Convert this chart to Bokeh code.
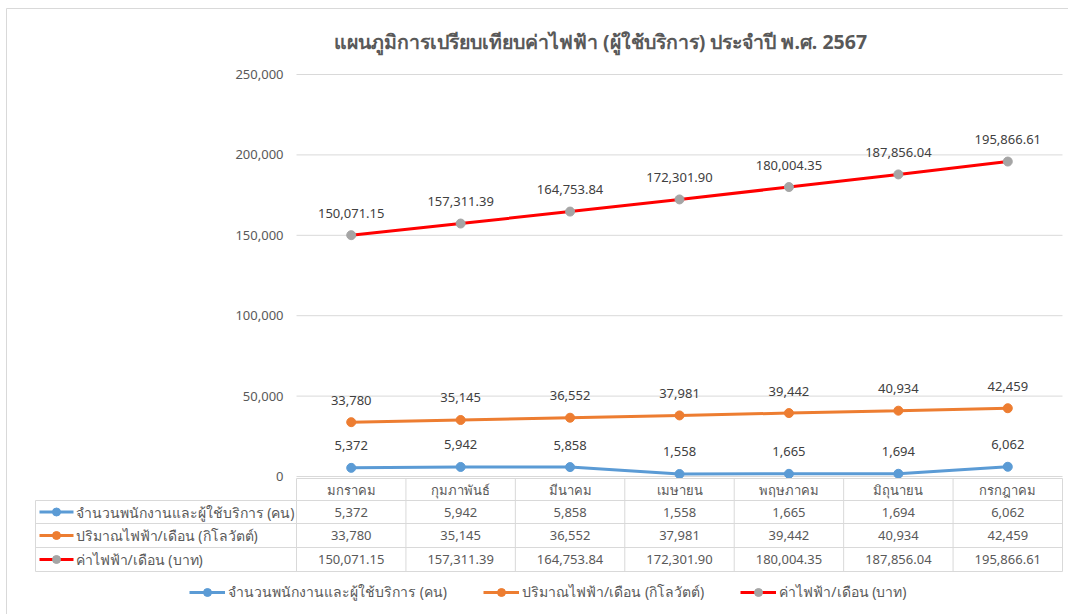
from bokeh.plotting import figure
from bokeh.models import Range1d, ColumnDataSource, Legend, LegendItem
from bokeh.core.properties import value
from bokeh.embed import file_html
from bokeh.resources import INLINE

# ---------------- data ----------------
title_text = "แผนภูมิการเปรียบเทียบค่าไฟฟ้า (ผู้ใช้บริการ) ประจำปี พ.ศ. 2567"
months = ["มกราคม", "กุมภาพันธ์", "มีนาคม", "เมษายน", "พฤษภาคม", "มิถุนายน", "กรกฎาคม"]
staff = [5372, 5942, 5858, 1558, 1665, 1694, 6062]
kwh = [33780, 35145, 36552, 37981, 39442, 40934, 42459]
baht = [150071.15, 157311.39, 164753.84, 172301.90, 180004.35, 187856.04, 195866.61]
series_names = ["จำนวนพนักงานและผู้ใช้บริการ (คน)",
                "ปริมาณไฟฟ้า/เดือน (กิโลวัตต์)",
                "ค่าไฟฟ้า/เดือน (บาท)"]
y_ticks = [0, 50000, 100000, 150000, 200000, 250000]

# ---------------- style ----------------
FONT = "Noto Sans"
TXT = "#595959"
LBL = "#404040"
GRID = "#d9d9d9"
BORDER = "#d9d9d9"
line_colors = ["#5B9BD5", "#ED7D31", "#FF0000"]
marker_colors = ["#5B9BD5", "#ED7D31", "#A5A5A5"]
series_values = [staff, kwh, baht]
fmt = [lambda v: f"{v:,}", lambda v: f"{v:,}", lambda v: f"{v:,.2f}"]

W, H = 1068, 614
PLOT_L, PLOT_R = 296, 1062          # plot area (px)
Y_ZERO, Y_TOP = 476, 74             # px of 0 and of 250,000
TBL_L = 35
n = len(months)
cell_px = (PLOT_R - PLOT_L) / n
xs = list(range(n))
ppu = (Y_ZERO - Y_TOP) / float(y_ticks[-1])

x_start = -0.5 - PLOT_L / cell_px
x_end = -0.5 + (W - PLOT_L) / cell_px
y_start = -(H - Y_ZERO) / ppu
y_end = Y_ZERO / ppu

p = figure(width=W, height=H, x_range=Range1d(x_start, x_end), y_range=Range1d(y_start, y_end),
           output_backend="svg", toolbar_location=None, x_axis_location=None,
           y_axis_location=None, min_border=0)
p.extra_x_ranges = {"px": Range1d(0, W)}
p.extra_y_ranges = {"px": Range1d(H, 0)}
p.outline_line_color = None
p.grid.visible = False
p.background_fill_color = "white"
p.border_fill_color = "white"

# chart-area border (left & top)
p.segment(x0=[6, 6], y0=[8, 8], x1=[6, W], y1=[H, 8], line_color=BORDER, line_width=1,
          x_range_name="px", y_range_name="px")

# title
p.text(x=[600], y=[41], text=[title_text], text_align="center", text_baseline="middle",
       text_font=value(FONT), text_font_size="19.5px", text_font_style="bold", text_color=TXT,
       x_range_name="px", y_range_name="px")

# gridlines and y tick labels
p.segment(x0=[-0.5] * len(y_ticks), y0=y_ticks, x1=[n - 0.5] * len(y_ticks), y1=y_ticks,
          line_color=GRID, line_width=1)
p.text(x=[-0.5] * len(y_ticks), y=y_ticks, text=[f"{t:,}" for t in y_ticks], x_offset=-13,
       text_align="right", text_baseline="middle", text_font=value(FONT),
       text_font_size="13px", text_color=TXT)

# series
for vals, lc, mc, f in zip(series_values, line_colors, marker_colors, fmt):
    src = ColumnDataSource(dict(x=xs, y=vals, t=[f(v) for v in vals]))
    p.line("x", "y", source=src, line_color=lc, line_width=3)
    p.scatter("x", "y", source=src, size=9, fill_color=mc, line_color=mc)
    p.text("x", "y", text="t", source=src, text_align="center", text_baseline="middle",
           y_offset=-22, text_font=value(FONT), text_font_size="13px", text_color=LBL)

# ---------------- data table ----------------
x_left = -0.5 - (PLOT_L - TBL_L) / cell_px
rows = [478, 500, 523, 547, 571]
hx0 = [-0.5] + [x_left] * (len(rows) - 1)
hx1 = [n - 0.5] * len(rows)
p.segment(x0=hx0, y0=rows, x1=hx1, y1=rows, line_color=GRID, line_width=1, y_range_name="px")
vx = [-0.5 + i for i in range(n + 1)] + [x_left]
vy0 = [rows[0]] * (n + 1) + [rows[1]]
vy1 = [rows[-1]] * (n + 2)
p.segment(x0=vx, y0=vy0, x1=vx, y1=vy1, line_color=GRID, line_width=1, y_range_name="px")

mid = lambda a, b: (a + b) / 2
p.text(x=xs, y=[mid(rows[0], rows[1])] * n, text=months, text_align="center",
       text_baseline="middle", text_font=value(FONT), text_font_size="13px", text_color=TXT,
       y_range_name="px")

legend_items = []
px = 1.0 / cell_px
for r, (vals, lc, mc, f, name) in enumerate(zip(series_values, line_colors, marker_colors, fmt, series_names)):
    yc = mid(rows[r + 1], rows[r + 2])
    p.text(x=xs, y=[yc] * n, text=[f(v) for v in vals], text_align="center",
           text_baseline="middle", text_font=value(FONT), text_font_size="13px", text_color=TXT,
           y_range_name="px")
    lr = p.line(x=[x_left + 4 * px, x_left + 38 * px], y=[yc, yc], line_color=lc, line_width=3,
                y_range_name="px")
    sr = p.scatter(x=[x_left + 21 * px], y=[yc], size=8, fill_color=mc, line_color=mc,
                   y_range_name="px")
    p.text(x=[x_left + 40 * px], y=[yc], text=[name], text_align="left", text_baseline="middle",
           text_font=value(FONT), text_font_size="14px", text_color=TXT, y_range_name="px")
    legend_items.append(LegendItem(label=name, renderers=[lr, sr]))

legend = Legend(items=legend_items, orientation="horizontal", location=(189, 11),
                glyph_width=36, glyph_height=20, label_standoff=3, spacing=36,
                padding=0, margin=0, border_line_color=None, background_fill_alpha=0,
                label_text_font=FONT, label_text_font_size="14px", label_text_color=TXT)
p.add_layout(legend, "center")

open("out.html", "w").write(file_html(p, INLINE))
